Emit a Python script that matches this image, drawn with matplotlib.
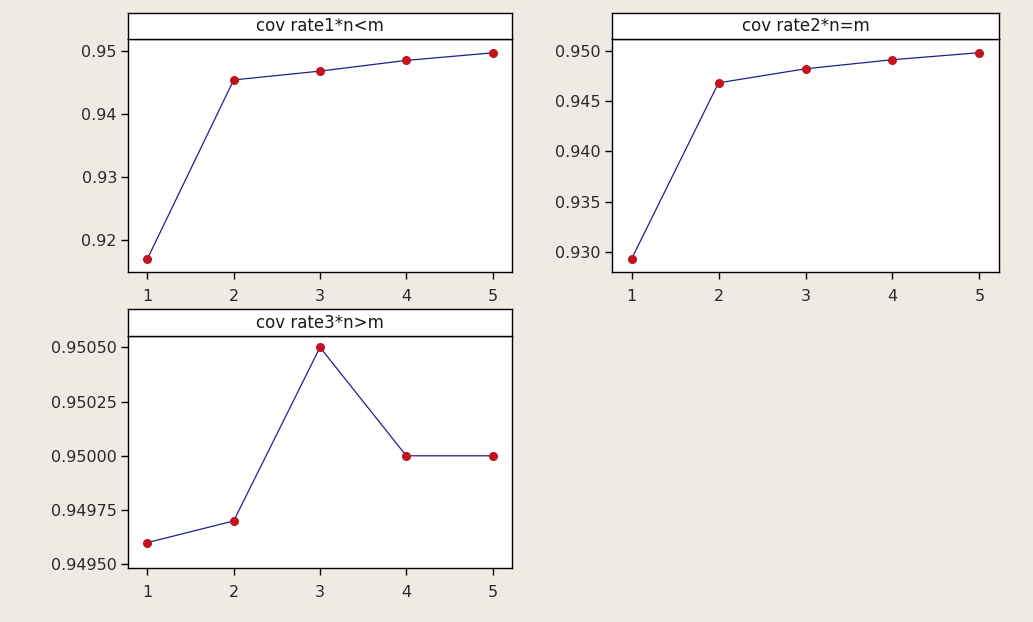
import matplotlib
matplotlib.use("Agg")
import matplotlib.pyplot as plt
from matplotlib.ticker import FixedLocator, FormatStrFormatter

x = [1, 2, 3, 4, 5]
rate1 = [0.9170, 0.9454, 0.9468, 0.9485, 0.9497]
rate2 = [0.9293, 0.9468, 0.9482, 0.9491, 0.9498]
rate3 = [0.9496, 0.9497, 0.9505, 0.9500, 0.9500]

titles = ["cov rate1*n<m", "cov rate2*n=m", "cov rate3*n>m"]
yticks1 = [0.92, 0.93, 0.94, 0.95]
yticks2 = [0.930, 0.935, 0.940, 0.945, 0.950]
yticks3 = [0.94950, 0.94975, 0.95000, 0.95025, 0.95050]

bg = "#efebe4"
plt.rcParams['font.family'] = ['DejaVu Sans']
fig = plt.figure(figsize=(10.33, 6.22), dpi=100, facecolor=bg)

W, H = 1033, 622

def panel(left, right, top, hdr_bottom, bottom, yv, ticks, fmt, ylim, title):
    ax = fig.add_axes([left / W, (H - bottom) / H, (right - left) / W, (bottom - hdr_bottom) / H])
    ax.set_facecolor("white")
    ax.plot(x, yv, color="#20208a", lw=0.9, zorder=2)
    ax.plot(x, yv, 'o', color="#c0141e", ms=5.5, zorder=3)
    ax.set_xlim(0.775, 5.225)
    ax.set_ylim(*ylim)
    ax.xaxis.set_major_locator(FixedLocator(x))
    ax.yaxis.set_major_locator(FixedLocator(ticks))
    ax.yaxis.set_major_formatter(FormatStrFormatter(fmt))
    ax.tick_params(direction="out", length=5, width=1, labelsize=11.5, color="black",
                   labelcolor="#2a2a2a", pad=3)
    ax.tick_params(axis="x", pad=7)
    for s in ax.spines.values():
        s.set_linewidth(1.0)
        s.set_color("black")
    hx = fig.add_axes([left / W, (H - hdr_bottom) / H, (right - left) / W, (hdr_bottom - top) / H])
    hx.set_facecolor("white")
    hx.set_xticks([]); hx.set_yticks([])
    for s in hx.spines.values():
        s.set_linewidth(1.0)
        s.set_color("black")
    hx.text(0.5, 0.5, title, ha="center", va="center", fontsize=12, color="#1a1a1a",
            transform=hx.transAxes)
    return ax

panel(128, 512, 13, 39, 272, rate1, yticks1, "%.2f", (0.9149, 0.9519), titles[0])
panel(612, 999, 13, 39, 272, rate2, yticks2, "%.3f", (0.9280, 0.95116), titles[1])
panel(128, 512, 309, 336, 568, rate3, yticks3, "%.5f", (0.949483, 0.950552), titles[2])

fig.savefig("out.png", dpi=100, facecolor=bg)
